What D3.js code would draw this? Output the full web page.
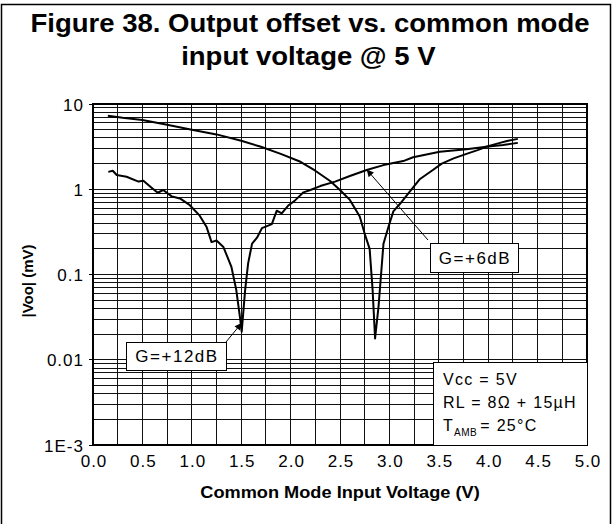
<!DOCTYPE html>
<html>
<head>
<meta charset="utf-8">
<script src="https://cdn.jsdelivr.net/npm/d3@7"></script>
<style>
  html, body { margin: 0; padding: 0; background: #fff; }
  svg text { font-family: "Liberation Sans", Arial, sans-serif; fill: #000; }
</style>
</head>
<body>
<svg id="chart" width="615" height="524"></svg>
<script>
// Output offset |Voo| (mV) vs. common mode input voltage (V), Vcc = 5 V

// Series A: starts near 7 mV, null near 2.85 V
const voltA = [0.15, 0.3, 0.5, 0.75, 1.0, 1.25, 1.5, 1.7, 1.9, 2.1, 2.25, 2.4, 2.5, 2.6, 2.7, 2.75, 2.8, 2.83, 2.855,
               2.89, 2.94, 2.99, 3.04, 3.11, 3.21, 3.31, 3.44, 3.53, 3.65, 3.78, 3.9, 3.98, 4.1, 4.2, 4.3];
const voomA = [7.3, 6.9, 6.5, 5.7, 5.0, 4.4, 3.7, 3.15, 2.6, 2.1, 1.65, 1.25, 0.98, 0.75, 0.48, 0.3, 0.2, 0.066, 0.0178,
               0.042, 0.23, 0.36, 0.55, 0.68, 0.95, 1.32, 1.68, 2.0, 2.3, 2.6, 2.9, 3.15, 3.45, 3.7, 3.9];

// Series B: starts near 1.6 mV, null near 1.5 V
const voltB = [0.155, 0.2, 0.24, 0.34, 0.46, 0.51, 0.59, 0.655, 0.71, 0.8, 0.88, 0.98, 1.08, 1.15, 1.2, 1.25, 1.32, 1.4,
               1.45, 1.49, 1.505, 1.54, 1.57, 1.61, 1.66, 1.71, 1.81, 1.86, 1.91, 1.98, 2.04, 2.13, 2.2, 2.3, 2.45, 2.6,
               2.77, 2.94, 3.14, 3.24, 3.51, 3.78, 3.98, 4.15, 4.3];
const voomB = [1.6, 1.65, 1.47, 1.4, 1.23, 1.26, 1.05, 0.91, 0.98, 0.82, 0.78, 0.65, 0.49, 0.36, 0.24, 0.25, 0.21, 0.124,
               0.066, 0.03, 0.0213, 0.066, 0.135, 0.23, 0.27, 0.35, 0.39, 0.56, 0.52, 0.65, 0.73, 0.92, 0.98, 1.09, 1.23, 1.43,
               1.68, 1.92, 2.14, 2.37, 2.75, 2.94, 3.16, 3.3, 3.5];

// Axis ticks
const xTicks = [0, 0.5, 1, 1.5, 2, 2.5, 3, 3.5, 4, 4.5, 5];
const xTickLabels = ["0.0", "0.5", "1.0", "1.5", "2.0", "2.5", "3.0", "3.5", "4.0", "4.5", "5.0"];
const yTicks = [10, 1, 0.1, 0.01, 0.001];
const yTickLabels = ["10", "1", "0.1", "0.01", "1E-3"];

// Callouts: label and the curve point it points to
const calloutLabels = ["G=+6dB", "G=+12dB"];
const calloutVolt = [2.77, 1.505];
const calloutVoom = [1.70, 0.027];

const svg = d3.select("#chart");

// outer frame
svg.append("rect")
  .attr("x", 1.5).attr("y", 4.5).attr("width", 609).attr("height", 530)
  .attr("fill", "none").attr("stroke", "#000").attr("stroke-width", 1.5);

// title (slightly widened bold face)
const title = svg.append("text")
  .attr("transform", "translate(310,0) scale(1.1,1)")
  .attr("text-anchor", "middle")
  .attr("font-size", 25).attr("font-weight", "bold");
title.append("tspan").attr("x", 0).attr("y", 32).text("Figure 38. Output offset vs. common mode");
title.append("tspan").attr("x", -1.5).attr("y", 65).text("input voltage @ 5 V");

const L = 93, R = 587, T = 104, B = 445;
const x = d3.scaleLinear().domain([0, 5]).range([L, R]);
const y = d3.scaleLog().domain([0.001, 10]).range([B, T]);

const grid = svg.append("g").attr("stroke", "#111").attr("stroke-width", 1).attr("shape-rendering", "crispEdges");

// vertical grid every 0.25 V
grid.selectAll("line.v").data(d3.range(1, 20).map(i => i * 0.25)).join("line")
  .attr("class", "v")
  .attr("x1", d => x(d)).attr("x2", d => x(d))
  .attr("y1", T).attr("y2", B);

// horizontal log grid (1..9 per decade)
const logLines = [];
[0.001, 0.01, 0.1, 1].forEach(dec => { for (let k = 2; k <= 9; k++) logLines.push(dec * k); });
[0.01, 0.1, 1].forEach(v => logLines.push(v));
grid.selectAll("line.h").data(logLines).join("line")
  .attr("class", "h")
  .attr("x1", L).attr("x2", R)
  .attr("y1", d => y(d)).attr("y2", d => y(d));

// plot frame
svg.append("rect")
  .attr("x", L).attr("y", T).attr("width", R - L).attr("height", B - T)
  .attr("fill", "none").attr("stroke", "#000").attr("stroke-width", 1.5)
  .attr("shape-rendering", "crispEdges");

// small outward ticks on the decades
svg.append("g").selectAll("line").data(yTicks).join("line")
  .attr("x1", L - 4).attr("x2", L)
  .attr("y1", d => y(d)).attr("y2", d => y(d))
  .attr("stroke", "#000").attr("stroke-width", 1).attr("shape-rendering", "crispEdges");

// axis labels
const xAxis = d3.axisBottom(x).tickValues(xTicks).tickSize(0).tickPadding(0)
  .tickFormat((d, i) => xTickLabels[i]);
const gx = svg.append("g").attr("transform", `translate(0,${B})`).call(xAxis);
gx.select(".domain").remove();
gx.selectAll("text")
  .attr("font-size", 17).attr("font-family", "Liberation Sans, Arial, sans-serif")
  .attr("dy", null).attr("y", 21.5)
  .style("letter-spacing", "1px").attr("dx", 0.5);

const yAxis = d3.axisLeft(y).tickValues(yTicks).tickSize(0).tickPadding(0)
  .tickFormat((d, i) => yTickLabels[i]);
const gy = svg.append("g").attr("transform", `translate(${L - 9},0)`).call(yAxis);
gy.select(".domain").remove();
gy.selectAll("text")
  .attr("font-size", 17).attr("font-family", "Liberation Sans, Arial, sans-serif")
  .attr("dy", "0.36em").attr("x", 0)
  .style("letter-spacing", "1px");

svg.append("text")
  .attr("transform", "translate(340,498) scale(1.07,1)")
  .attr("text-anchor", "middle")
  .attr("font-size", 17).attr("font-weight", "bold")
  .text("Common Mode Input Voltage (V)");

svg.append("text")
  .attr("transform", "translate(33,281) rotate(-90)")
  .attr("text-anchor", "middle")
  .attr("font-size", 15).attr("font-weight", "bold")
  .text("|Voo| (mV)");

// curves
const line = d3.line().x(d => x(d[0])).y(d => y(d[1]));
[[voltA, voomA], [voltB, voomB]].forEach(([vs, ms]) => {
  svg.append("path")
    .datum(vs.map((v, i) => [v, ms[i]]))
    .attr("d", line)
    .attr("fill", "none").attr("stroke", "#000").attr("stroke-width", 2)
    .attr("stroke-linejoin", "round");
});

// arrowhead marker
svg.append("defs").append("marker")
  .attr("id", "arrow").attr("viewBox", "0 0 10 10")
  .attr("refX", 10).attr("refY", 5)
  .attr("markerWidth", 9).attr("markerHeight", 7)
  .attr("markerUnits", "userSpaceOnUse")
  .attr("orient", "auto")
  .append("path").attr("d", "M0,0L10,5L0,10z").attr("fill", "#000");

// callout boxes (left, top, width, height) and arrow start
const boxes = [
  { bx: 430, by: 243, bw: 88, bh: 29, sx: 428, sy: 240 },
  { bx: 126, by: 342, bw: 100, bh: 28, sx: 226, sy: 342 }
];
boxes.forEach((b, i) => {
  svg.append("line")
    .attr("x1", b.sx).attr("y1", b.sy)
    .attr("x2", x(calloutVolt[i])).attr("y2", y(calloutVoom[i]))
    .attr("stroke", "#000").attr("stroke-width", 1)
    .attr("marker-end", "url(#arrow)");
  svg.append("rect")
    .attr("x", b.bx + 0.5).attr("y", b.by + 0.5).attr("width", b.bw).attr("height", b.bh)
    .attr("fill", "#fff").attr("stroke", "#000").attr("stroke-width", 1);
  svg.append("text")
    .attr("x", b.bx + b.bw / 2 + 1).attr("y", b.by + b.bh / 2 + 6)
    .attr("text-anchor", "middle")
    .attr("font-size", 17)
    .style("letter-spacing", "1.5px")
    .text(calloutLabels[i]);
});

// conditions box
const ib = { x: 433, y: 362 };
svg.append("rect")
  .attr("x", ib.x + 0.5).attr("y", ib.y + 0.5).attr("width", R - ib.x).attr("height", B - ib.y)
  .attr("fill", "#fff").attr("stroke", "#000").attr("stroke-width", 1);
const cond = svg.append("g").attr("font-size", 16).style("letter-spacing", "1.3px");
cond.append("text").attr("x", 443).attr("y", 385).text("Vcc = 5V");
cond.append("text").attr("x", 443).attr("y", 408).text("RL = 8\u03A9 + 15\u00B5H");
const t3 = cond.append("text").attr("x", 443).attr("y", 431);
t3.append("tspan").text("T");
t3.append("tspan").attr("font-size", 10).attr("dy", 5).style("letter-spacing", "0.5px").text("AMB");
t3.append("tspan").attr("dy", -5).attr("dx", 3).text("= 25\u00B0C");
</script>
</body>
</html>
